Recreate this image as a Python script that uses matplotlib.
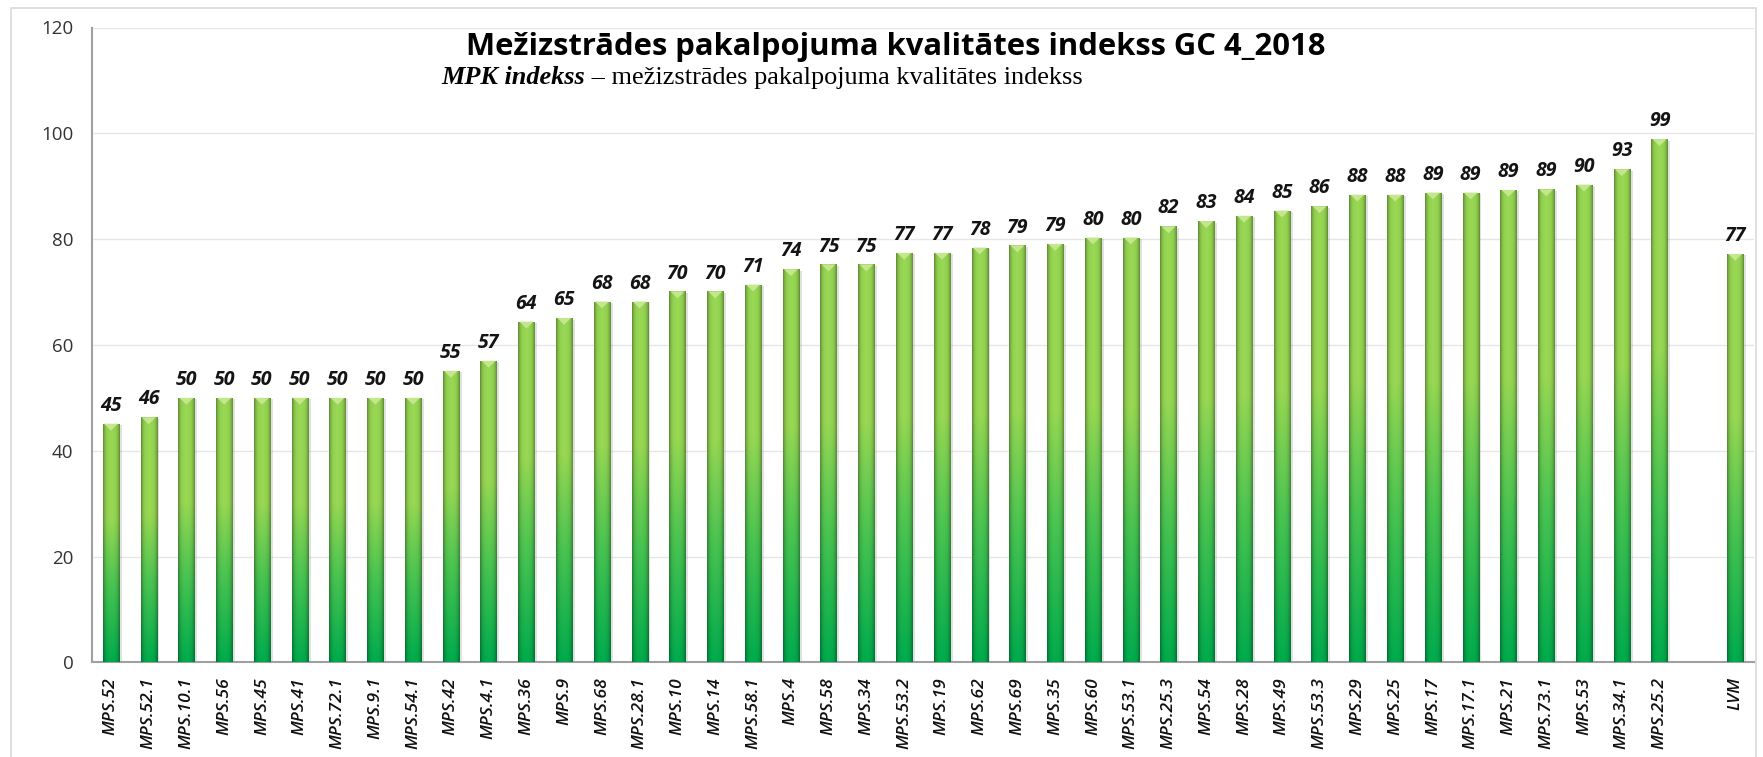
import numpy as np
import matplotlib
matplotlib.use('Agg')
import matplotlib.pyplot as plt
from matplotlib.colors import to_rgb
from matplotlib.patches import Polygon, Rectangle

# ---------------- data ----------------
categories = ["MPS.52", "MPS.52.1", "MPS.10.1", "MPS.56", "MPS.45", "MPS.41", "MPS.72.1",
              "MPS.9.1", "MPS.54.1", "MPS.42", "MPS.4.1", "MPS.36", "MPS.9", "MPS.68",
              "MPS.28.1", "MPS.10", "MPS.14", "MPS.58.1", "MPS.4", "MPS.58", "MPS.34",
              "MPS.53.2", "MPS.19", "MPS.62", "MPS.69", "MPS.35", "MPS.60", "MPS.53.1",
              "MPS.25.3", "MPS.54", "MPS.28", "MPS.49", "MPS.53.3", "MPS.29", "MPS.25",
              "MPS.17", "MPS.17.1", "MPS.21", "MPS.73.1", "MPS.53", "MPS.34.1", "MPS.25.2"]
values = [45.1, 46.3, 50.0, 50.0, 50.0, 50.0, 50.0, 50.0, 50.0, 55.1, 57.0, 64.4, 65.1, 68.2,
          68.2, 70.1, 70.1, 71.4, 74.3, 75.2, 75.2, 77.4, 77.4, 78.4, 78.8, 79.1, 80.3, 80.3,
          82.4, 83.4, 84.4, 85.4, 86.2, 88.4, 88.4, 88.8, 88.8, 89.3, 89.4, 90.3, 93.2, 98.9]
total_label = "LVM"
total_value = 77.2
y_ticks = [0, 20, 40, 60, 80, 100, 120]
title = "Mežizstrādes pakalpojuma kvalitātes indekss GC 4_2018"
subtitle_bold = "MPK indekss"
subtitle_rest = " – mežizstrādes pakalpojuma kvalitātes indekss"

# ---------------- figure ----------------
W, H = 1763, 757
fig = plt.figure(figsize=(W / 100, H / 100), dpi=100)
fig.patch.set_facecolor('white')

ax = fig.add_axes([92 / W, 1 - 662.3 / H, (1754 - 92) / W, (662.3 - 27.5) / H])

labels = categories + [total_label]
vals = values + [total_value]
pos = list(np.arange(len(categories))) + [len(categories) + 1]

bar_w = 0.43
bars = ax.bar(pos, vals, width=bar_w, color='none', edgecolor='none', zorder=3)

# gradient colours
dark = np.array(to_rgb('#00a54a'))
mid = np.array(to_rgb('#46bd4e'))
light = np.array(to_rgb('#92d050'))
N, M = 200, 24
t = np.linspace(0, 1, N)
stops_t = [0.0, 0.32, 0.6, 1.0]
stops_c = [dark, mid, light, light]
col = np.zeros((N, 3))
for k in range(3):
    col[:, k] = np.interp(t, stops_t, [c[k] for c in stops_c])
cc = np.linspace(-1, 1, M)
shade = 1 - 0.32 * np.abs(cc) ** 4 + 0.04 * (1 - np.abs(cc))
img = np.clip(col[:, None, :] * shade[None, :, None], 0, 1)

for p, b, v in zip(pos, bars, vals):
    x0 = b.get_x()
    x1 = x0 + b.get_width()
    # soft shadow
    ax.add_patch(Rectangle((x0 + 0.07, 0), b.get_width(), v - 0.3, facecolor='#7a7a7a',
                           alpha=0.22, edgecolor='none', zorder=2.5))
    im = ax.imshow(img, extent=(x0, x1, 0, v), origin='lower', aspect='auto',
                   interpolation='bilinear', zorder=3)
    im.set_clip_path(b)
    ax.add_patch(Polygon([(x0 + 0.03, v), (x1 - 0.03, v), (p, v - 1.3)], closed=True,
                         facecolor='#c4e68c', edgecolor='none', zorder=3.2))
    ax.text(p, v + 1.5, f"{v:.0f}", ha='center', va='bottom', fontsize=14,
            family='Open Sans', weight='bold', style='italic', color='#141414', zorder=4)

ax.set_xlim(-0.5, len(categories) + 1.5)
ax.set_ylim(0, 120)
ax.set_yticks(y_ticks)
ax.set_yticklabels([str(v) for v in y_ticks], family='Open Sans', fontsize=13.5, color='#333333')
ax.set_xticks(pos)
ax.set_xticklabels(labels, rotation=90, family='Open Sans', style='italic', weight='semibold',
                   fontsize=12.5, color='#111111', ha='center', va='top')
ax.tick_params(axis='both', length=0)
ax.tick_params(axis='y', pad=13.5)
ax.tick_params(axis='x', pad=10.5)
ax.grid(axis='y', color='#e6e6e6', linewidth=1.0, zorder=0)
ax.set_axisbelow(True)
for s in ['top', 'right']:
    ax.spines[s].set_visible(False)
for s in ['left', 'bottom']:
    ax.spines[s].set_color('#a0a0a0')
    ax.spines[s].set_linewidth(1.5)

# outer frame
fig.patches.append(Rectangle((11 / W, -0.02), (1756 - 11) / W, 1.02 - 8 / H,
                             transform=fig.transFigure, fill=False,
                             edgecolor='#d9d9d9', linewidth=1.2))

# titles
fig.text(896 / W, 1 - 55 / H, title, ha='center', va='baseline', fontsize=22.3,
         family='Open Sans', weight='bold', color='#000000')
t1 = fig.text(441 / W, 1 - 84 / H, subtitle_bold, ha='left', va='baseline', fontsize=18.9,
              family='Liberation Serif', style='italic', weight='bold', color='#000000')
fig.canvas.draw()
bb = t1.get_window_extent(renderer=fig.canvas.get_renderer())
fig.text(bb.x1 / W, 1 - 84 / H, subtitle_rest, ha='left', va='baseline', fontsize=18.9,
         family='Liberation Serif', color='#000000')

fig.savefig('out.png', dpi=100, facecolor='white')
